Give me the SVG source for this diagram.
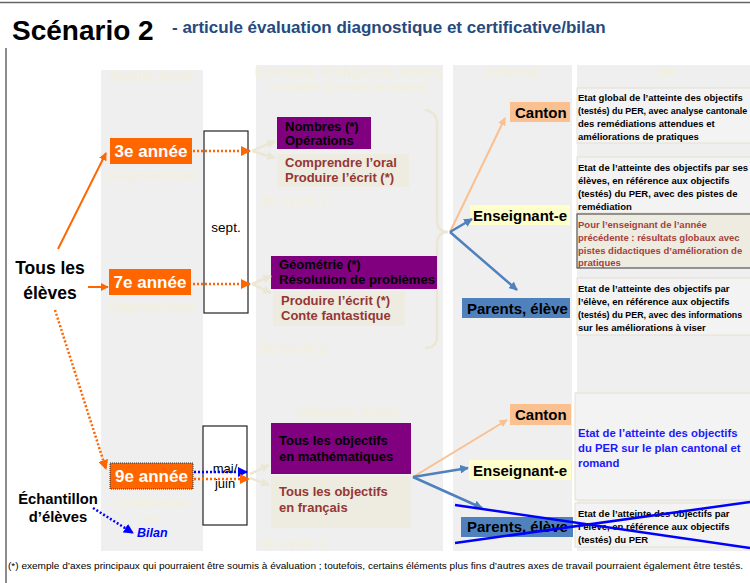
<svg xmlns="http://www.w3.org/2000/svg" width="750" height="583" viewBox="0 0 750 583">
<defs>
<style>
text{font-family:"Liberation Sans",Arial,sans-serif;}
.b{font-weight:bold;}
.col{fill:#efefef;}
.faint{fill:#f3efde;font-weight:bold;}
.orng{fill:#ff6600;}
.purp{fill:#800080;}
.crm{fill:#eeebe0;}
.wt{fill:#ffffff;font-weight:bold;font-size:17px;text-anchor:middle;}
.pk{fill:#000;font-weight:bold;font-size:13px;}
.rd{fill:#953735;font-weight:bold;font-size:13px;}
.who{fill:#000;font-weight:bold;font-size:15px;}
.sm{fill:#000;font-weight:bold;font-size:9.5px;}
.sbox{fill:#f3f3f3;stroke:#e4e0d2;stroke-width:1;}
.solidO{stroke:#ff6600;stroke-width:2;fill:none;}
.dotO{stroke:#ff6600;stroke-width:2.5;stroke-dasharray:2 2;fill:none;}
.dotB{stroke:#0000ff;stroke-width:2.5;stroke-dasharray:2 2;fill:none;}
.pch{stroke:#fac090;stroke-width:2;fill:none;}
.blu{stroke:#4f81bd;stroke-width:2.5;fill:none;}
.cr{stroke:#ece7d5;stroke-width:2.5;fill:none;}
</style>
<marker id="aO" viewBox="0 0 10 10" refX="9" refY="5" markerWidth="4" markerHeight="4" orient="auto"><path d="M0,0L10,5L0,10z" fill="#ff6600"/></marker>
<marker id="aB" viewBox="0 0 10 10" refX="9" refY="5" markerWidth="4" markerHeight="4" orient="auto"><path d="M0,0L10,5L0,10z" fill="#0000ff"/></marker>
<marker id="aP" viewBox="0 0 10 10" refX="9" refY="5" markerWidth="4" markerHeight="4" orient="auto"><path d="M0,0L10,5L0,10z" fill="#fac090"/></marker>
<marker id="aL" viewBox="0 0 10 10" refX="9" refY="5" markerWidth="3.5" markerHeight="3.5" orient="auto"><path d="M0,0L10,5L0,10z" fill="#4f81bd"/></marker>
<marker id="aC" viewBox="0 0 10 10" refX="9" refY="5" markerWidth="3.5" markerHeight="3.5" orient="auto"><path d="M0,0L10,5L0,10z" fill="#ece7d5"/></marker>
</defs>
<rect x="0" y="0" width="750" height="583" fill="#ffffff"/>
<!-- frame -->
<line x1="0" y1="2.5" x2="750" y2="2.5" stroke="#666" stroke-width="1.5"/>
<line x1="6" y1="48" x2="6" y2="583" stroke="#666" stroke-width="1.5"/>
<!-- title -->
<text x="12" y="40" class="b" font-size="28" fill="#000">Scénario 2</text>
<text x="172" y="33" class="b" font-size="17" fill="#264a7e">- articule évaluation diagnostique et certificative/bilan</text>
<!-- columns -->
<g id="columns">
<rect class="col" x="101" y="70" width="102" height="481"/>
<rect class="col" x="256" y="65" width="187" height="486"/>
<rect class="col" x="453" y="65" width="119" height="486"/>
<rect class="col" x="577" y="65" width="173" height="486"/>
<text class="faint" x="152" y="81" font-size="15" text-anchor="middle">Public testé</text>
<text class="faint" x="349" y="77" font-size="15" text-anchor="middle">Exemple d’objectifs testés</text>
<text class="faint" x="349" y="91" font-size="12" font-style="italic" font-weight="normal" text-anchor="middle">(variable d’année en année)</text>
<text class="faint" x="513" y="77" font-size="15" text-anchor="middle">Informé</text>
<text class="faint" x="667" y="77" font-size="15" text-anchor="middle">de</text>
<text class="faint" x="152" y="180" font-size="14" font-style="italic" text-anchor="middle">Diagnostique</text>
<text class="faint" x="152" y="311" font-size="14" font-style="italic" text-anchor="middle">Diagnostique</text>
<text class="faint" x="152" y="507" font-size="13" font-style="italic" text-anchor="middle">Certification</text>
<text class="faint" x="152" y="522" font-size="13" text-anchor="middle">ou</text>
<text class="faint" x="260" y="206" font-size="14">du cycle 1</text>
<text class="faint" x="260" y="353" font-size="14">du cycle 2</text>
<text class="faint" x="260" y="548" font-size="14">du cycle 3</text>
<text class="faint" x="349" y="417" font-size="14" text-anchor="middle">Objectifs testés</text>
<path class="cr" d="M425,110 Q437,112 437,124 L437,220 Q437,232 448,232 Q437,232 437,244 L437,336 Q437,348 425,348"/>
</g>
<!-- left nodes -->
<g id="tous"><text x="50" y="274" class="b" font-size="17.5" text-anchor="middle">Tous les</text><text x="50" y="299" class="b" font-size="17.5" text-anchor="middle">élèves</text></g>
<g id="echantillon"><text x="58" y="504" class="b" font-size="14.8" text-anchor="middle">Échantillon</text><text x="58" y="522" class="b" font-size="14.8" text-anchor="middle">d’élèves</text></g>
<g id="bilan"><text x="137" y="537" class="b" font-size="12.5" font-style="italic" fill="#0000ff">Bilan</text></g>
<g id="a3"><rect class="orng" x="110" y="138" width="82" height="26"/><text class="wt" x="151" y="157">3e année</text></g>
<g id="a7"><rect class="orng" x="109" y="269" width="82" height="26"/><text class="wt" x="150" y="288">7e année</text></g>
<g id="a9"><rect class="orng" x="110" y="463" width="83" height="26" stroke="#333" stroke-width="1" stroke-dasharray="1 1"/><text class="wt" x="151.5" y="482">9e année</text></g>
<g id="sept"><rect x="204" y="131" width="44" height="182" fill="#fff" stroke="#222" stroke-width="1.2"/><text x="226" y="232" font-size="13.5" text-anchor="middle">sept.</text></g>
<g id="maijuin"><rect x="203" y="426" width="44" height="99" fill="#fff" stroke="#222" stroke-width="1.2"/><text x="225" y="473" font-size="13" text-anchor="middle">mai/</text><text x="225" y="488" font-size="13" text-anchor="middle">juin</text></g>
<!-- objectives -->
<g id="nombres"><rect class="purp" x="277" y="117" width="94" height="32"/><text class="pk" x="285" y="130.5">Nombres (*)</text><text class="pk" x="285" y="145">Opérations</text></g>
<g id="comprendre"><rect class="crm" x="277" y="154" width="132" height="33"/><text class="rd" x="285" y="167">Comprendre l’oral</text><text class="rd" x="285" y="181.5">Produire l’écrit (*)</text></g>
<g id="geometrie"><rect class="purp" x="271" y="256" width="166" height="33"/><text class="pk" x="279" y="269">Géométrie (*)</text><text class="pk" x="279" y="284" textLength="156" lengthAdjust="spacingAndGlyphs">Résolution de problèmes</text></g>
<g id="produire"><rect class="crm" x="273" y="291" width="132" height="35"/><text class="rd" x="281" y="305">Produire l’écrit (*)</text><text class="rd" x="281" y="320">Conte fantastique</text></g>
<g id="mathsall"><rect class="purp" x="271" y="423" width="140" height="51"/><text class="pk" x="279" y="445">Tous les objectifs</text><text class="pk" x="279" y="461">en mathématiques</text></g>
<g id="francaisall"><rect class="crm" x="271" y="476" width="140" height="52"/><text class="rd" x="279" y="496">Tous les objectifs</text><text class="rd" x="279" y="512">en français</text></g>
<!-- informed -->
<g id="canton1"><rect x="510" y="102" width="60" height="20" fill="#fac090"/><text class="who" x="515" y="118">Canton</text></g>
<g id="ens1"><rect x="470" y="205" width="100" height="20" fill="#ffffcc"/><text class="who" x="473" y="221">Enseignant-e</text></g>
<g id="par1"><rect x="462" y="298" width="108" height="20" fill="#4f81bd"/><text class="who" x="467" y="314">Parents, élève</text></g>
<g id="canton2"><rect x="510" y="404" width="61" height="21" fill="#fac090"/><text class="who" x="515" y="420">Canton</text></g>
<g id="ens2"><rect x="469" y="460" width="102" height="20" fill="#ffffcc"/><text class="who" x="473" y="476">Enseignant-e</text></g>
<g id="par2"><rect x="461" y="517" width="112" height="20" fill="#4f81bd"/><text class="who" x="467" y="532">Parents, élève</text></g>
<!-- descriptions -->
<g id="d1"><rect class="sbox" x="577" y="88" width="175" height="55"/>
<text class="sm" x="578" y="101">Etat global de l’atteinte des objectifs</text>
<text class="sm" x="578" y="114" font-size="8.9" style="font-size:8.9px">(testés) du PER, avec analyse cantonale</text>
<text class="sm" x="578" y="127">des remédiations attendues et</text>
<text class="sm" x="578" y="140">améliorations de pratiques</text></g>
<g id="d2"><rect class="sbox" x="577" y="157" width="175" height="56"/>
<text class="sm" x="578" y="171">Etat de l’atteinte des objectifs par ses</text>
<text class="sm" x="578" y="184">élèves, en référence aux objectifs</text>
<text class="sm" x="578" y="197">(testés) du PER, avec des pistes de</text>
<text class="sm" x="578" y="210">remédiation</text></g>
<g id="d3"><rect x="577" y="214" width="175" height="54" fill="#eeece1" stroke="#555" stroke-width="1.2"/>
<text class="sm" style="fill:#a5403b" x="578" y="228">Pour l’enseignant de l’année</text>
<text class="sm" style="fill:#a5403b" x="578" y="241">précédente : résultats globaux avec</text>
<text class="sm" style="fill:#a5403b" x="578" y="254">pistes didactiques d’amélioration de</text>
<text class="sm" style="fill:#a5403b" x="578" y="266">pratiques</text></g>
<g id="d4"><rect class="sbox" x="577" y="278" width="175" height="57"/>
<text class="sm" x="578" y="292">Etat de l’atteinte des objectifs par</text>
<text class="sm" x="578" y="305">l’élève, en référence aux objectifs</text>
<text class="sm" x="578" y="318" style="font-size:8.9px">(testés) du PER, avec des informations</text>
<text class="sm" x="578" y="331">sur les améliorations à viser</text></g>
<g id="d5"><rect class="sbox" x="575" y="393" width="177" height="107"/>
<text class="b" font-size="11.3" fill="#1a1aff" x="578" y="437">Etat de l’atteinte des objectifs</text>
<text class="b" font-size="11.3" fill="#1a1aff" x="578" y="452">du PER sur le plan cantonal et</text>
<text class="b" font-size="11.3" fill="#1a1aff" x="578" y="467">romand</text></g>
<g id="d6"><rect class="sbox" x="575" y="503" width="177" height="44"/>
<text class="sm" x="578" y="517">Etat de l’atteinte des objectifs par</text>
<text class="sm" x="578" y="530">l’élève, en référence aux objectifs</text>
<text class="sm" x="578" y="543">(testés) du PER</text></g>
<!-- connectors -->
<g id="connectors">
<line class="solidO" x1="58" y1="249" x2="106" y2="153" marker-end="url(#aO)"/>
<line class="solidO" x1="88" y1="287" x2="108" y2="287" marker-end="url(#aO)"/>
<line class="dotO" x1="55" y1="310" x2="106" y2="469" marker-end="url(#aO)"/>
<line class="dotO" x1="193" y1="151" x2="250" y2="151" marker-end="url(#aO)"/>
<line class="dotO" x1="193" y1="284" x2="250" y2="284" marker-end="url(#aO)"/>
<line class="dotB" x1="194" y1="472" x2="247" y2="472" marker-end="url(#aB)"/>
<line class="dotO" x1="194" y1="479" x2="249" y2="479" marker-end="url(#aO)"/>
<line class="dotB" x1="93" y1="508" x2="133" y2="533" marker-end="url(#aB)"/>
<line class="cr" x1="252" y1="151" x2="275" y2="141" marker-end="url(#aC)"/>
<line class="cr" x1="252" y1="151" x2="275" y2="158" marker-end="url(#aC)"/>
<line class="cr" x1="252" y1="284" x2="271" y2="276" marker-end="url(#aC)"/>
<line class="cr" x1="252" y1="284" x2="271" y2="293" marker-end="url(#aC)"/>
<line class="cr" x1="250" y1="474" x2="269" y2="465" marker-end="url(#aC)"/>
<line class="cr" x1="250" y1="478" x2="269" y2="485" marker-end="url(#aC)"/>
<line class="pch" x1="450" y1="232" x2="505" y2="118" marker-end="url(#aP)"/>
<line class="blu" x1="450" y1="232" x2="472" y2="219" marker-end="url(#aL)"/>
<line class="blu" x1="450" y1="232" x2="517" y2="290" marker-end="url(#aL)"/>
<line class="pch" x1="413" y1="477" x2="507" y2="420" marker-end="url(#aP)"/>
<line class="blu" x1="413" y1="477" x2="468" y2="468" marker-end="url(#aL)"/>
<line class="blu" x1="413" y1="477" x2="482" y2="508" marker-end="url(#aL)"/>
</g>
<!-- strike-through -->
<line x1="455" y1="505" x2="750" y2="548" stroke="#0000ff" stroke-width="2.5"/>
<line x1="455" y1="543" x2="750" y2="502" stroke="#0000ff" stroke-width="2.5"/>
<text x="8" y="569" font-size="9.4" textLength="735" lengthAdjust="spacingAndGlyphs" fill="#000">(*) exemple d’axes principaux qui pourraient être soumis à évaluation ; toutefois, certains éléments plus fins d’autres axes de travail pourraient également être testés.</text>
</svg>
